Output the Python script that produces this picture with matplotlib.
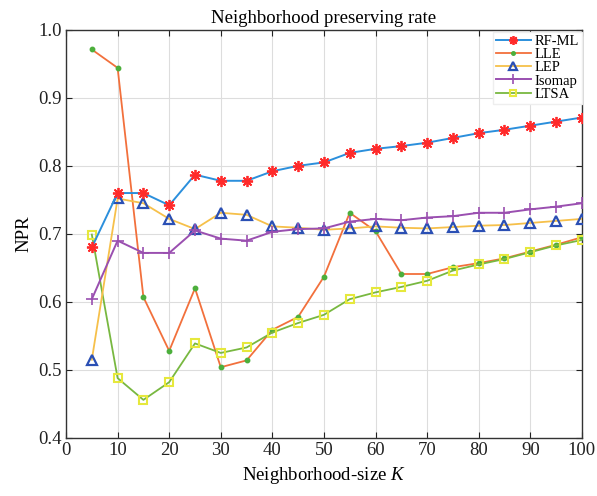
import matplotlib
matplotlib.use("Agg")
import matplotlib.pyplot as plt

# Fonts: Times-like serif, italic K via mathtext
plt.rcParams['font.family'] = ['Liberation Serif', 'DejaVu Serif']
plt.rcParams['mathtext.fontset'] = 'custom'
plt.rcParams['mathtext.rm'] = 'Liberation Serif'
plt.rcParams['mathtext.it'] = 'Liberation Serif:italic'

# Data
k_values = [5, 10, 15, 20, 25, 30, 35, 40, 45, 50, 55, 60, 65, 70, 75, 80, 85, 90, 95, 100]
rf_ml = [0.680, 0.760, 0.760, 0.742, 0.787, 0.778, 0.778, 0.792, 0.800, 0.805,
         0.819, 0.825, 0.829, 0.834, 0.841, 0.848, 0.853, 0.859, 0.865, 0.871]
lle = [0.971, 0.944, 0.607, 0.528, 0.620, 0.504, 0.514, 0.559, 0.578, 0.637,
       0.731, 0.704, 0.641, 0.641, 0.651, 0.657, 0.664, 0.674, 0.684, 0.695]
lep = [0.515, 0.752, 0.745, 0.722, 0.707, 0.731, 0.728, 0.711, 0.709, 0.706,
       0.708, 0.711, 0.709, 0.708, 0.710, 0.712, 0.713, 0.716, 0.719, 0.722]
isomap = [0.604, 0.690, 0.672, 0.672, 0.705, 0.693, 0.690, 0.703, 0.707, 0.708,
          0.718, 0.722, 0.720, 0.724, 0.726, 0.731, 0.731, 0.736, 0.740, 0.745]
ltsa = [0.699, 0.488, 0.456, 0.482, 0.539, 0.525, 0.533, 0.555, 0.569, 0.581,
        0.604, 0.614, 0.622, 0.631, 0.646, 0.655, 0.663, 0.673, 0.683, 0.691]

x_ticks = [0, 10, 20, 30, 40, 50, 60, 70, 80, 90, 100]
y_ticks = [0.4, 0.5, 0.6, 0.7, 0.8, 0.9, 1.0]

fig = plt.figure(figsize=(5.97, 4.96), dpi=100)
ax = fig.add_axes([0.1106, 0.117, 0.864, 0.823])

# MATLAB-like asterisk for RF-ML
ax.plot(k_values, rf_ml, color='#2b8fdc', lw=1.4, marker=(8, 2, 0), ms=8,
        mfc='#ff2a2a', mec='#ff2a2a', mew=1.3, label='RF-ML', zorder=5)
ax.plot(k_values, lle, color='#f2703c', lw=1.3, marker='o', ms=3.2,
        mfc='#4caf3c', mec='#4caf3c', label='LLE', zorder=3)
ax.plot(k_values, lep, color='#f6c04a', lw=1.3, marker='^', ms=7,
        mfc='none', mec='#2a4fb4', mew=1.6, label='LEP', zorder=4)
ax.plot(k_values, isomap, color='#9a4fb0', lw=1.4, marker='+', ms=9,
        mec='#9a4fb0', mew=1.2, label='Isomap', zorder=4)
ax.plot(k_values, ltsa, color='#78b840', lw=1.3, marker='s', ms=6,
        mfc='none', mec='#e6e83c', mew=1.5, label='LTSA', zorder=3)

ax.set_xlim(0, 100)
ax.set_ylim(0.4, 1.0)
ax.set_xticks(x_ticks)
ax.set_yticks(y_ticks)
ax.set_yticklabels(['%.1f' % v for v in y_ticks])
ax.grid(True, color='#dddddd', lw=0.8)
ax.set_axisbelow(True)
ax.tick_params(direction='in', top=True, right=True, length=4.5,
               labelsize=13.5, colors='#222222', pad=3)
for sp in ax.spines.values():
    sp.set_color('#333333')
    sp.set_linewidth(1.0)

ax.set_title('Neighborhood preserving rate', fontsize=13.5, pad=5)
ax.set_xlabel('Neighborhood-size $K$', fontsize=13.5, labelpad=4)
ax.set_ylabel('NPR', fontsize=13.5, labelpad=4)

leg = ax.legend(loc='upper right', bbox_to_anchor=(1.0, 0.995), borderaxespad=0.0,
                fontsize=10.5, labelspacing=0.0, handlelength=2.4, handletextpad=0.25,
                borderpad=0.2, markerscale=0.8, fancybox=False, framealpha=1.0,
                edgecolor='#eeeeee')
leg.set_zorder(10)

plt.savefig('out.png', dpi=100)
